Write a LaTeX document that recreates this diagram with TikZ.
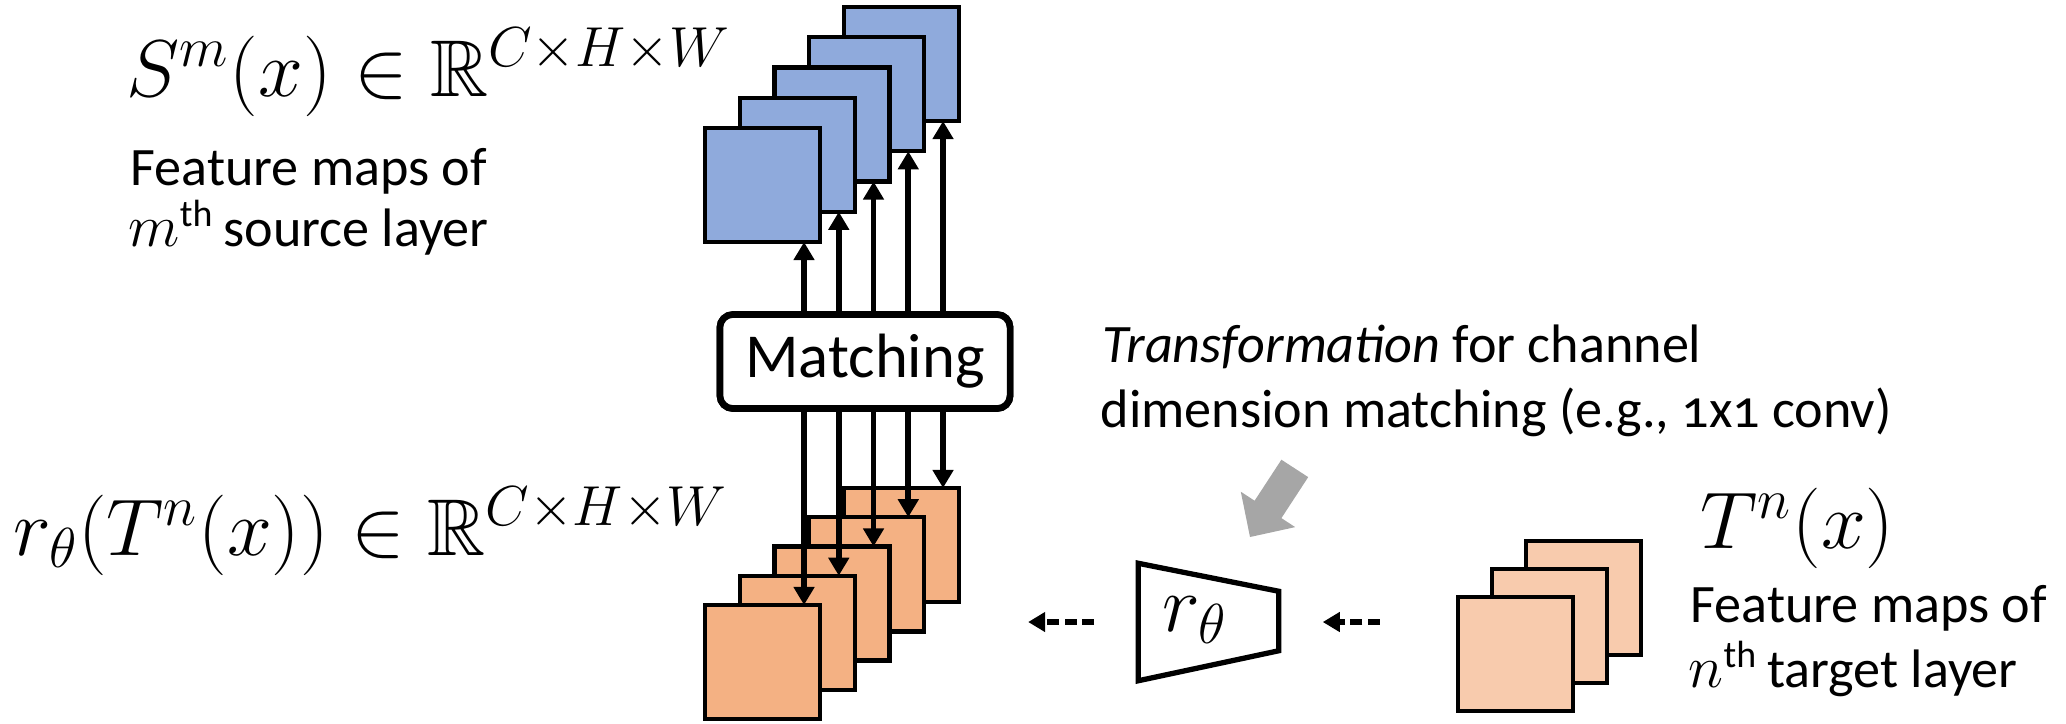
\RequirePackage{fix-cm}
\documentclass[tikz,border=0pt]{standalone}
\usepackage{amssymb}
\usepackage{fontspec}
\setmainfont{Carlito}
\usetikzlibrary{arrows.meta,calc}
\definecolor{mapblue}{HTML}{8FAADC}
\definecolor{maporange}{HTML}{F4B183}
\definecolor{maplight}{HTML}{F8CBAD}
\definecolor{hintgray}{HTML}{A6A6A6}
\tikzset{
  fmap/.style={draw=black, line width=1.25pt, minimum width=1.15cm, minimum height=1.14cm,
               inner sep=0pt, outer sep=0pt},
  flow/.style={line width=1.6pt, -{Triangle[length=0.18cm,width=0.2cm]}},
  feed/.style={line width=1.5pt, dash pattern=on 0.12cm off 0.055cm,
               -{Triangle[length=0.17cm,width=0.19cm]}},
  mathlbl/.style={inner sep=0pt, font=\fontsize{22.9}{27}\selectfont},
  bodylbl/.style={inner sep=0pt, font=\fontsize{15.4}{18}\selectfont},
  matchbox/.style={draw, line width=1.9pt, rounded corners=0.13cm, minimum width=2.9cm,
               minimum height=0.94cm, inner sep=0pt, font=\fontsize{17.8}{20}\selectfont},
}
\begin{document}
\begin{tikzpicture}[x=0.01cm, y=-0.01cm]
\useasboundingbox (0,0) rectangle (2066,723);

% source feature maps (blue), back to front
\foreach \k in {4,3,2,1,0} {
  \node[fmap, fill=mapblue] (b\k) at ({762.5+34.75*\k},{185-30.25*\k}) {};
}
% matched target feature maps (orange), back to front
\foreach \k in {4,3,2,1,0} {
  \node[fmap, fill=maporange] (o\k) at ({762.5+34.75*\k},{662-29.25*\k}) {};
}
% raw target feature maps (light orange)
\foreach \k in {2,1,0} {
  \node[fmap, fill=maplight] (r\k) at ({1515.5+34*\k},{654-28*\k}) {};
}

% matching block and its connections
\node[matchbox] (match) at (865,361.5) {};
\foreach \k in {0,...,4} {
  \draw[flow] ($(b\k.south east |- match.north)+(-16,0)$) -- ($(b\k.south east)+(-16,0)$);
  \draw[flow] ($(o\k.north east |- match.south)+(-16,0)$) -- ($(o\k.north east)+(-16,0)$);
}
\node[matchbox, fill=white] (matchlbl) at (match) {Matching};

% channel transformation r_theta
\node[minimum width=1.39cm, minimum height=1.16cm, inner sep=0pt] (trap) at (1208.5,622) {};
\draw[line width=1.5pt, line join=miter]
  (trap.north west) -- ($(trap.north east)+(0,28)$) -- ($(trap.south east)+(0,-30)$)
  -- (trap.south west) -- cycle;
\node[mathlbl] (rth) at (1195,620) {$r_\theta$};

\draw[feed, shorten <=0.44cm, shorten >=2.08cm] (trap.west) -- (o0.east |- trap.west);
\draw[feed, shorten <=0.78cm, shorten >=0.44cm] (r0.west |- trap.east) -- (trap.east);

% pointer from the note to the transformation
\fill[hintgray] (1250,537) -- (1295.2,527.1) -- (1281.4,518.1) -- (1308.2,477.1)
  -- (1281.4,459.7) -- (1254.6,500.7) -- (1240.8,491.7) -- cycle;

% labels
\node[mathlbl, anchor=base west] (srcmath) at (126,96)
  {$S^m(x) \in \mathbb{R}^{C\times H\times W}$};
\node[bodylbl, anchor=base west] (srcA) at (130,185) {Feature maps of};
\node[bodylbl, anchor=base west] (srcB) at (128,246)
  {{\fontsize{17}{18}\selectfont$m$}\textsuperscript{th}\,source layer};

\node[mathlbl, anchor=base west] (tgtmath) at (13,555)
  {$r_\theta(T^n(x)) \in \mathbb{R}^{C\times H\times W}$};

\node[bodylbl, anchor=base west] (noteA) at (1102,362) {\textit{Transformation} for channel};
\node[bodylbl, anchor=base west] (noteB) at (1100,427)
  {dimension matching (e.g., {\addfontfeature{Numbers=OldStyle}1x1} conv)};

\node[mathlbl, anchor=base west] (tnmath) at (1700,548) {$T^n(x)$};
\node[bodylbl, anchor=base west] (tgtA) at (1690,622) {Feature maps of};
\node[bodylbl, anchor=base west] (tgtB) at (1688,687)
  {{\fontsize{17}{18}\selectfont$n$}\textsuperscript{th}\,target layer};
\end{tikzpicture}
\end{document}
